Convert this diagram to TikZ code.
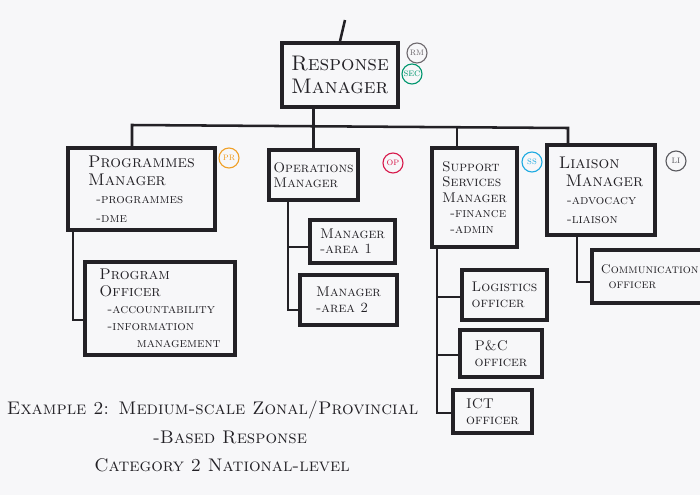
\documentclass[tikz,border=0pt]{standalone}
\usepackage{xcolor}
\usetikzlibrary{positioning}

\definecolor{ink}{RGB}{35,33,38}
\definecolor{paper}{RGB}{247,247,249}
\definecolor{tagrm}{RGB}{110,105,110}
\definecolor{tagsec}{RGB}{0,150,110}
\definecolor{tagpr}{RGB}{240,160,40}
\definecolor{tagop}{RGB}{215,25,75}
\definecolor{tagss}{RGB}{30,170,225}
\definecolor{tagli}{RGB}{90,90,95}

\newcommand{\duty}[1]{{\fontsize{9.5}{11}\selectfont\hspace*{0.6em}#1}}

\begin{document}
\begin{tikzpicture}[x=0.025cm, y=-0.025cm,
  box/.style={draw=ink, line width=2.6pt, inner sep=3pt, align=left, text=ink,
              font=\fontsize{12}{13}\selectfont\scshape},
  smallbox/.style={box, font=\fontsize{10}{11}\selectfont\scshape},
  link/.style={draw=ink, line width=1.8pt},
  tag/.style={circle, draw, line width=0.8pt, minimum size=0.5cm, inner sep=0pt,
              font=\fontsize{7.5}{7.5}\selectfont\scshape},
  note/.style={text=ink, font=\fontsize{13}{15}\selectfont\scshape}
]
  \useasboundingbox[fill=paper] (0,0) rectangle (700,495);
  \clip (0,0) rectangle (700,495);

  % top of the chart
  \coordinate (top) at (345,20);
  \node[box, font=\fontsize{15}{16}\selectfont\scshape, minimum width=2.9cm, minimum height=1.6cm]
    (rm) at (340,75) {Response\\Manager};
  \node[tag, draw=tagrm, text=tagrm] (rmtag) at (417,53) {rm};
  \node[tag, draw=tagsec, text=tagsec] (sectag) at (412,74) {sec};

  % managers
  \node[box, minimum width=3.675cm, minimum height=2.05cm] (prog) at (141.5,189)
    {Programmes\\Manager\\ \duty{-programmes}\\ \duty{-dme}};
  \node[tag, draw=tagpr, text=tagpr] (prtag) at (229,158) {pr};

  \node[smallbox, minimum width=2.075cm, minimum height=1.25cm] (ops) at (313.5,175)
    {Operations\\Manager};
  \node[tag, draw=tagop, text=tagop] (optag) at (393,163) {op};

  \node[smallbox, minimum width=2.125cm, minimum height=2.475cm] (supp) at (474.5,197.5)
    {Support\\Services\\Manager\\ \duty{-finance}\\ \duty{-admin}};
  \node[tag, draw=tagss, text=tagss] (sstag) at (532,162) {ss};

  \node[box, minimum width=2.7cm, minimum height=2.25cm] (liai) at (601,190)
    {Liaison\\ \hspace*{0.4em}Manager\\ \duty{-advocacy}\\ \duty{-liaison}};
  \node[tag, draw=tagli, text=tagli] (litag) at (676,161) {li};

  % staff under each manager
  \node[smallbox, font=\fontsize{11}{12}\selectfont\scshape, minimum width=3.75cm, minimum height=2.325cm]
    (po) at (160,308.5)
    {Program\\Officer\\ \duty{-accountability}\\ \duty{-information}\\ \duty{\hspace*{2.2em}management}};

  \node[smallbox, minimum width=2.125cm, minimum height=1.075cm] (area1) at (352.5,241.5)
    {Manager\\-area 1};
  \node[smallbox, minimum width=2.425cm, minimum height=1.25cm] (area2) at (348.5,300)
    {Manager\\-area 2};

  \node[smallbox, minimum width=2.125cm, minimum height=1.25cm] (logi) at (504.5,295)
    {Logistics\\officer};
  \node[smallbox, minimum width=2.05cm, minimum height=1.175cm] (pnc) at (501,353.5)
    {P\&C\\officer};
  \node[smallbox, minimum width=1.975cm, minimum height=1.075cm] (ict) at (492.5,411.5)
    {ICT\\officer};

  \node[smallbox, font=\fontsize{9}{11}\selectfont\scshape, minimum width=2.95cm, minimum height=1.325cm,
        text width=2.5cm] (comm) at (651,276.5)
    {Communication\\ \hspace*{0.6em}officer};

  % connectors
  \coordinate (busL) at (132,125);
  \coordinate (busR) at (568,128);
  \coordinate (busS) at (457,127);
  \draw[link] (top) -- (rm.north);
  \draw[link] (rm.south -| ops.north) -- (ops.north);
  \draw[link] (busL |- prog.north) -- (busL) -- (busR) -- (busR |- liai.north);
  \draw[link] (busS) -- (busS |- supp.north);

  \coordinate (poj) at (73,320);
  \draw[link] (poj |- prog.south) -- (poj) -- (poj -| po.west);

  \coordinate (opa) at (288,247);
  \coordinate (opb) at (288,310);
  \draw[link] (opb |- ops.south) -- (opb) -- (opb -| area2.west);
  \draw[link] (opa) -- (opa -| area1.west);

  \coordinate (ssa) at (437,297);
  \coordinate (ssb) at (437,355);
  \coordinate (ssc) at (437,413);
  \draw[link] (ssc |- supp.south) -- (ssc) -- (ssc -| ict.west);
  \draw[link] (ssa) -- (ssa -| logi.west);
  \draw[link] (ssb) -- (ssb -| pnc.west);

  \coordinate (lij) at (577,282);
  \draw[link] (lij |- liai.south) -- (lij) -- (lij -| comm.west);

  % caption
  \node[note, anchor=west] (cap1) at (2,410) {Example 2: Medium-scale Zonal/Provincial};
  \node[note] (cap2) at (230,437) {-Based Response};
  \node[note] (cap3) at (222,465) {Category 2 National-level};
\end{tikzpicture}
\end{document}
